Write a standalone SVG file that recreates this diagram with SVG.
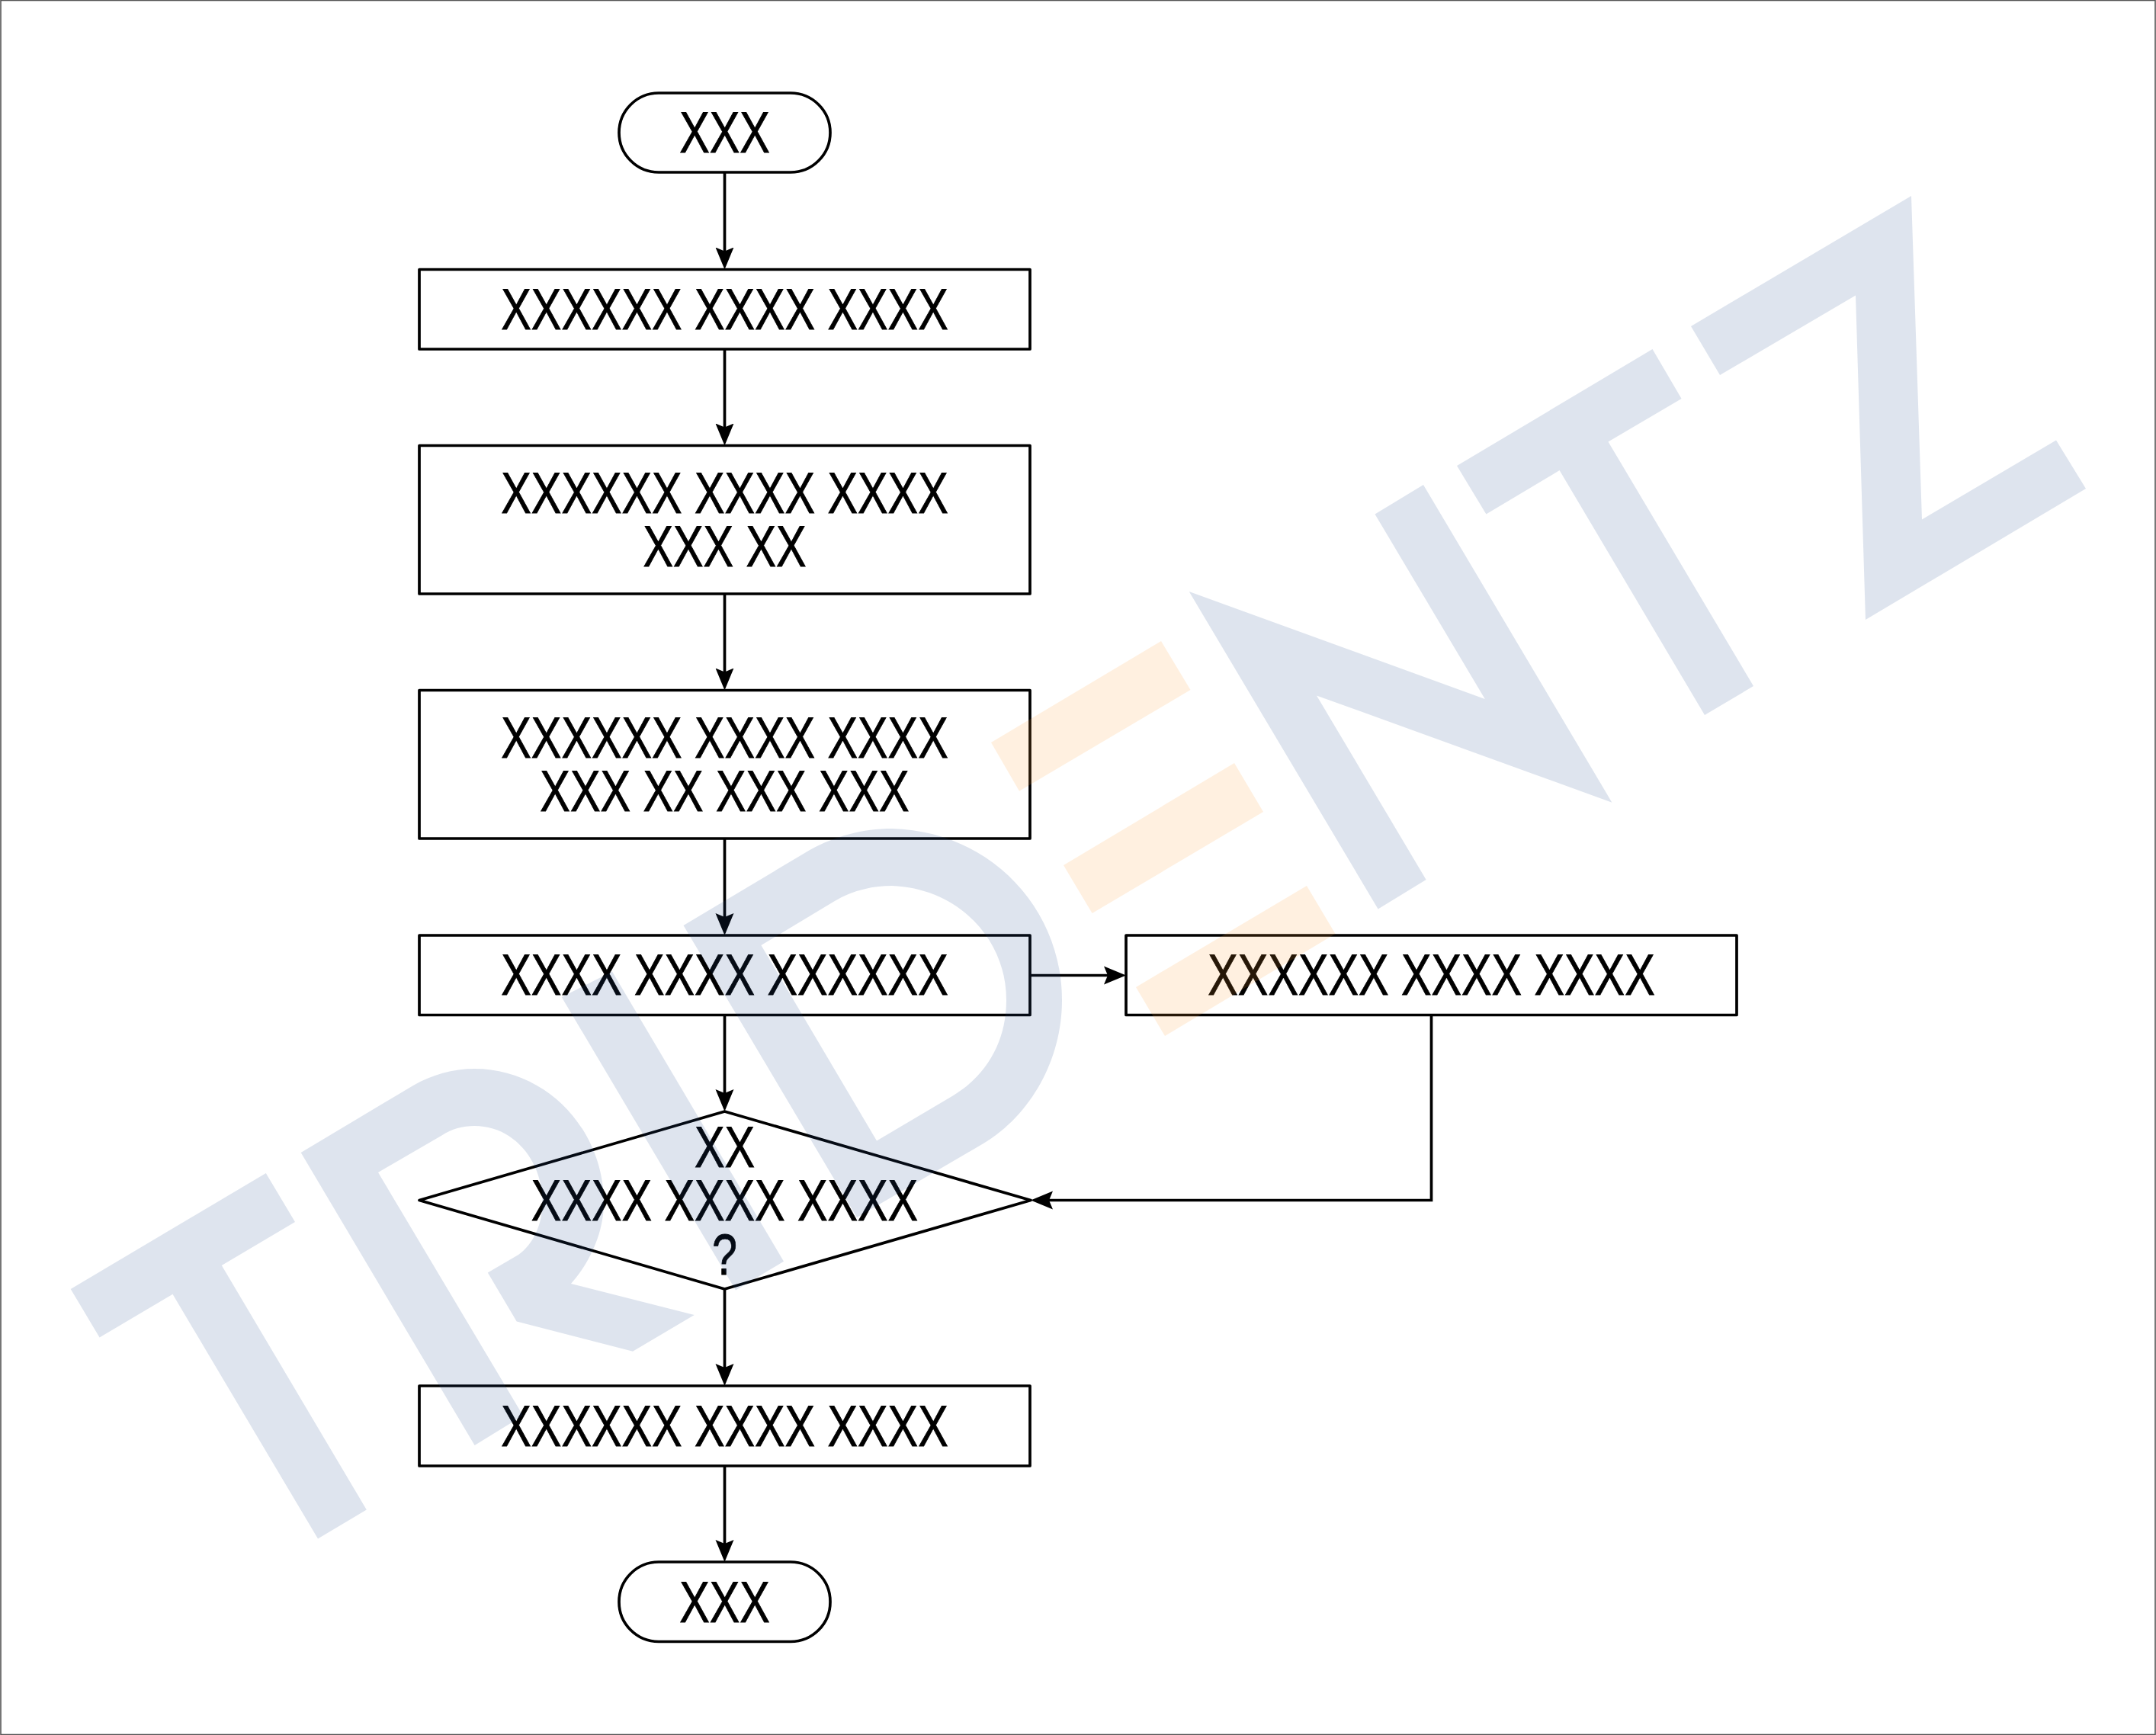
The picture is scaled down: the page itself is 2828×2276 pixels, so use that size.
<svg xmlns="http://www.w3.org/2000/svg" width="2828" height="2276" viewBox="0 0 2828 2276">
<defs>
<marker id="arrow" markerUnits="userSpaceOnUse" viewBox="0 0 30 26" markerWidth="30" markerHeight="26" refX="23" refY="13" orient="auto"><path d="M0,1 L29,13 L0,25 L5,13 Z" fill="#000"/></marker>
</defs>
<style>
.shape{fill:#fff;stroke:#000;stroke-width:3.7;stroke-linejoin:round}
.lbl{font-family:"Liberation Sans",Arial,sans-serif;font-size:76px;fill:#000;stroke:#000;stroke-width:.9;text-anchor:middle}
.conn{fill:none;stroke:#000;stroke-width:3.7}
.wb{fill:#1F4A8A;fill-opacity:.15}
.wo{fill:#FF9B30;fill-opacity:.15}
</style>
<rect width="2828" height="2276" fill="#fff"/>
<rect x="1" y="0.5" width="2826" height="2275" fill="none" stroke="#555" stroke-width="1.6"/>
<g id="start"><rect class="shape" x="812" y="122" width="277" height="104" rx="52" ry="52"/><text class="lbl" transform="matrix(.78 0 0 1 950.5 200)">XXX</text></g>
<g id="step1"><rect class="shape" x="550" y="353.5" width="801" height="104.5"/><text class="lbl" transform="matrix(.78 0 0 1 950.5 431.5)">XXXXXX XXXX XXXX</text></g>
<g id="step2"><rect class="shape" x="550" y="584.5" width="801" height="194.5"/><text class="lbl" transform="matrix(.78 0 0 1 950.5 673)">XXXXXX XXXX XXXX</text><text class="lbl" transform="matrix(.78 0 0 1 950.5 743)">XXX XX</text></g>
<g id="step3"><rect class="shape" x="550" y="905.5" width="801" height="194.5"/><text class="lbl" transform="matrix(.78 0 0 1 950.5 994)">XXXXXX XXXX XXXX</text><text class="lbl" transform="matrix(.78 0 0 1 950.5 1064)">XXX XX XXX XXX</text></g>
<g id="step4"><rect class="shape" x="550" y="1227" width="801" height="104.5"/><text class="lbl" transform="matrix(.78 0 0 1 950.5 1305.3)">XXXX XXXX XXXXXX</text></g>
<g id="side"><rect class="shape" x="1477" y="1227" width="801" height="104.5"/><text class="lbl" transform="matrix(.78 0 0 1 1877.5 1305.3)">XXXXXX XXXX XXXX</text></g>
<g id="decision"><polygon class="shape" points="950.5,1458 1352,1574.5 950.5,1691 550,1574.5"/><text class="lbl" transform="matrix(.78 0 0 1 950.5 1531)">XX</text><text class="lbl" transform="matrix(.78 0 0 1 950.5 1600.5)">XXXX XXXX XXXX</text><text class="lbl" transform="matrix(.78 0 0 1 950.5 1671.5)">?</text></g>
<g id="step5"><rect class="shape" x="550" y="1818" width="801" height="105"/><text class="lbl" transform="matrix(.78 0 0 1 950.5 1896.5)">XXXXXX XXXX XXXX</text></g>
<g id="end"><rect class="shape" x="812" y="2049" width="277" height="104.5" rx="52" ry="52"/><text class="lbl" transform="matrix(.78 0 0 1 950.5 2127.5)">XXX</text></g>
<g id="connectors">
<path class="conn" marker-end="url(#arrow)" d="M950.5,226 V347.5"/>
<path class="conn" marker-end="url(#arrow)" d="M950.5,458 V578.5"/>
<path class="conn" marker-end="url(#arrow)" d="M950.5,779 V899.5"/>
<path class="conn" marker-end="url(#arrow)" d="M950.5,1100 V1221"/>
<path class="conn" marker-end="url(#arrow)" d="M950.5,1331.5 V1452"/>
<path class="conn" marker-end="url(#arrow)" d="M950.5,1691 V1812"/>
<path class="conn" marker-end="url(#arrow)" d="M950.5,1923 V2043"/>
<path class="conn" marker-end="url(#arrow)" d="M1351,1279.5 H1471"/>
<path class="conn" marker-end="url(#arrow)" d="M1877.5,1331.5 V1574.5 H1358"/>
</g>
<g id="watermark">
<polygon class="wb" points="348.8,1539 387,1603 290.8,1660 480.8,1980.6 417,2018.5 226.5,1697.8 130.6,1754.6 92.7,1691"/>
<path class="wb" d="M394.7,1512 L542,1424 C566,1410 594,1402 622.6,1402 C715,1402 792,1480 792,1578 C792,1615 775,1655 749,1684 L910.7,1725 L830,1772.7 L677.7,1733.5 L639.8,1669.6 L680,1646 C700,1632 711.5,1605 711.5,1578 C711.5,1520 672,1477 622.6,1477 C607,1477 592,1481 579.5,1489.4 L496,1538 L686,1857 L622.6,1896 Z"/>
<polygon class="wb" points="736.7,1308 803,1274.6 1028,1654.7 965,1692.6"/>
<path class="wb" d="M896.5,1214 L1062.7,1114.7 C1095,1097 1132,1087 1170,1087 C1297,1090 1393,1190 1393,1312 C1393,1390 1352,1463 1290,1500 L1124,1597 Z M998.4,1240 L1150,1496.5 L1251,1436.7 C1295,1410 1320,1365 1320,1312 C1320,1230 1255,1165 1170,1162 C1147,1162 1120,1167 1094.9,1182 Z"/>
<polygon class="wo" points="1523,841 1561.5,905 1337,1037.7 1300,974"/>
<polygon class="wo" points="1619,1001 1657,1065 1432.6,1198 1395,1135"/>
<polygon class="wo" points="1714,1162 1751.5,1225 1528,1359 1490,1295"/>
<polygon class="wb" points="1559.7,776 1947.8,917 1803.5,674.5 1867,636 2114.4,1052.7 1727,912.4 1870.6,1154 1807.6,1192.4"/>
<polygon class="wb" points="2167.5,458 2205.6,523 2109.5,579.5 2300,900 2236,938 2045.6,617 1949.4,674.5 1911,611"/>
<polygon class="wb" points="2507,257 2521,681.5 2697,577.6 2736,641 2447,813 2434,387.5 2256,492 2218,428"/>
</g>
</svg>
